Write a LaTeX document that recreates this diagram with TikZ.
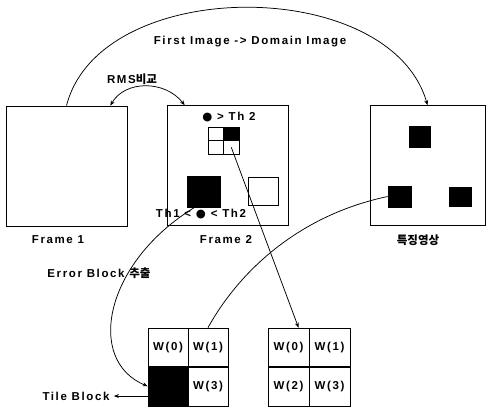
\documentclass[tikz,border=0pt]{standalone}
\usepackage{fontspec}
\setmainfont{Liberation Sans}[LetterSpace=14]
\newfontfamily\kr{Noto Sans CJK KR}
\newfontfamily\sym{DejaVu Sans}
\usetikzlibrary{arrows.meta,calc}
\begin{document}
\begin{tikzpicture}[x=1pt,y=-1pt,line width=0.75pt,
  font=\bfseries\fontsize{11.5}{13}\selectfont,
  >={Stealth[length=5pt,width=4pt]},
  frame/.style={draw,minimum width=#1,minimum height=120pt,inner sep=0pt},
  cell/.style={draw,minimum width=40pt,minimum height=39.5pt,inner sep=0pt},
  scell/.style={draw,minimum width=15.5pt,minimum height=13.5pt,inner sep=0pt},
  dark/.style={draw,fill=black,inner sep=0pt},
  lbl/.style={inner sep=1pt}]
\useasboundingbox (0,0) rectangle (489,408);
% frames
\node[frame=121pt] (f1) at (66.5,166) {};
\node[frame=121pt] (f2) at (227.5,165.5) {};
\node[frame=115pt] (f3) at (427.5,165.5) {};
\node[lbl] (l1) at (58,240) {Frame 1};
\node[lbl] (l2) at (226,240) {Frame 2};
\node[lbl] (l3) at (418,240) {\kr 특징영상};
% frame 2 content
\node[lbl] (t1) at (229,117) {{\sym ●} > Th 2};
\node[scell] (s1) at (215.75,133.75) {};
\node[scell,fill=black] (s2) at (231.25,133.75) {};
\node[scell] (s3) at (215.75,147.25) {};
\node[scell] (s4) at (231.25,147.25) {};
\node[dark,minimum width=33pt,minimum height=31pt] (dk) at (203.5,191.5) {};
\node[draw,inner sep=0pt,minimum width=30pt,minimum height=28pt] (wb) at (263,191) {};
\node[lbl] (t2) at (201,214) {Th1 < {\sym ●} < Th2};
% frame 3 content
\node[dark,minimum width=21pt,minimum height=21pt] (d1) at (419.5,136.5) {};
\node[dark,minimum width=23pt,minimum height=21pt] (d2) at (399.5,196.5) {};
\node[dark,minimum width=22pt,minimum height=19pt] (d3) at (460,196.5) {};
% bottom grids
\node[cell] (a0) at (168,347.75) {W(0)};
\node[cell] (a1) at (208,347.75) {W(1)};
\node[cell,fill=black] (a2) at (168,386.25) {};
\node[cell] (a3) at (208,386.25) {W(3)};
\node[cell,minimum width=41pt] (b0) at (288.5,347.75) {W(0)};
\node[cell,minimum width=41pt] (b1) at (329.5,347.75) {W(1)};
\node[cell,minimum width=41pt] (b2) at (288.5,386.25) {W(2)};
\node[cell,minimum width=41pt] (b3) at (329.5,386.25) {W(3)};
% labels
\node[lbl] (tfd) at (250,42) {First Image -> Domain Image};
\node[lbl] (trms) at (132,79) {RMS{\kr 비교}};
\node[lbl] (terr) at (99,273) {Error Block {\kr 추출}};
\node[lbl] (ttb) at (76,396) {Tile Block};
% connectors
\draw[->] (f1.north) .. controls (100,-25) and (390,-25) .. (f3.north);
\draw[<->] ([xshift=-17pt]f1.north east) .. controls (125,80) and (165,80) .. ([xshift=18pt]f2.north west);
\draw[->] ([xshift=8pt]dk.south west) .. controls (105,262) and (85,360) .. (a2.west);
\draw (d2.west) .. controls (300,215) and (240,270) .. (a1.north);
\draw[->] (s4.center) -- ([xshift=10pt]b0.north);
\draw[->] (ttb.east -| a2.west) -- ([xshift=3pt]ttb.east);
\end{tikzpicture}
\end{document}
